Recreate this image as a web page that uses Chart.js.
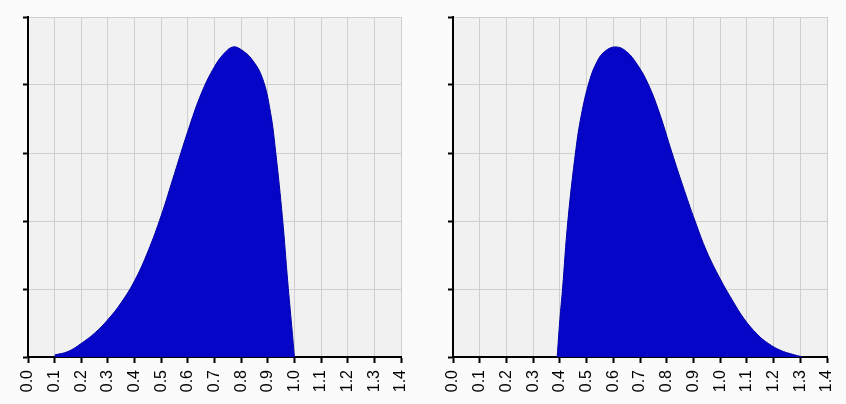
<!DOCTYPE html>
<html>
<head>
<meta charset="utf-8">
<script src="https://cdn.jsdelivr.net/npm/chart.js@4/dist/chart.umd.min.js"></script>
<style>
  html, body { margin: 0; padding: 0; background: #fbfbfb; }
  .box { position: absolute; top: 0; height: 404px; }
  #left { left: 0; width: 420px; }
  #right { left: 425px; width: 421px; }
</style>
</head>
<body>
<div class="box" id="left"><canvas id="leftChart"></canvas></div>
<div class="box" id="right"><canvas id="rightChart"></canvas></div>
<script>
// left curve (long tail on the left, sharp drop at 1.0)
const leftX = [0.10, 0.15, 0.20, 0.25, 0.30, 0.35, 0.40, 0.45, 0.50, 0.55, 0.60, 0.65, 0.70, 0.74, 0.77, 0.80, 0.84, 0.88, 0.91, 0.93, 0.955, 0.975, 0.99, 1.00];
const leftY = [0.03, 0.08, 0.20, 0.35, 0.55, 0.80, 1.12, 1.55, 2.08, 2.70, 3.32, 3.87, 4.27, 4.48, 4.56, 4.52, 4.38, 4.10, 3.60, 3.00, 2.05, 1.10, 0.45, 0.00];

// right curve (sharp rise at 0.39, long tail on the right)
const rightX = [0.39, 0.40, 0.41, 0.43, 0.46, 0.48, 0.51, 0.54, 0.57, 0.61, 0.65, 0.69, 0.73, 0.77, 0.82, 0.86, 0.906, 0.95, 1.00, 1.045, 1.09, 1.14, 1.18, 1.225, 1.27, 1.31];
const rightY = [0.00, 0.55, 1.00, 2.00, 3.05, 3.55, 4.05, 4.35, 4.50, 4.56, 4.49, 4.30, 4.02, 3.62, 3.00, 2.52, 2.00, 1.55, 1.15, 0.84, 0.56, 0.33, 0.20, 0.10, 0.04, 0.00];

const xTickStep = 0.1;
const yTickStep = 1;

const plotBg = {
  id: "plotBg",
  beforeDraw(chart) {
    const a = chart.chartArea;
    const ctx = chart.ctx;
    ctx.save();
    ctx.fillStyle = "#f1f1f1";
    ctx.fillRect(a.left, a.top, a.right - a.left, a.bottom - a.top);
    ctx.restore();
  }
};

function makeChart(id, xs, ys, padRight) {
  const pts = xs.map((x, i) => ({ x: x, y: ys[i] }));
  return new Chart(document.getElementById(id), {
    type: "line",
    data: {
      datasets: [{
        data: pts,
        fill: "origin",
        backgroundColor: "#0505c8",
        borderColor: "#0000a8",
        borderWidth: 1,
        pointRadius: 0,
        tension: 0.4
      }]
    },
    options: {
      responsive: true,
      maintainAspectRatio: false,
      animation: false,
      layout: { padding: { top: 17, right: padRight, left: 0, bottom: 0 } },
      plugins: { legend: { display: false }, tooltip: { enabled: false } },
      scales: {
        x: {
          type: "linear",
          min: 0,
          max: 1.4,
          afterFit(s) { s.height = 47; s.paddingLeft = 0; s.paddingRight = 0; },
          grid: { color: "#cfcfcf", lineWidth: 1, tickLength: 6, tickColor: "#000", tickWidth: 2 },
          border: { color: "#000", width: 2 },
          ticks: {
            stepSize: xTickStep,
            minRotation: 90,
            maxRotation: 90,
            padding: 7,
            color: "#000",
            font: { family: "Liberation Sans, Arial, sans-serif", size: 16 },
            callback: v => v.toFixed(1)
          }
        },
        y: {
          min: 0,
          max: 5,
          afterFit(s) { s.width = 28; s.paddingTop = 0; s.paddingBottom = 0; },
          grid: { color: "#cfcfcf", lineWidth: 1, tickLength: 5, tickColor: "#000", tickWidth: 2 },
          border: { color: "#000", width: 2 },
          ticks: { stepSize: yTickStep, callback: () => "" }
        }
      }
    },
    plugins: [plotBg]
  });
}

makeChart("leftChart", leftX, leftY, 19);
makeChart("rightChart", rightX, rightY, 19);
</script>
</body>
</html>
